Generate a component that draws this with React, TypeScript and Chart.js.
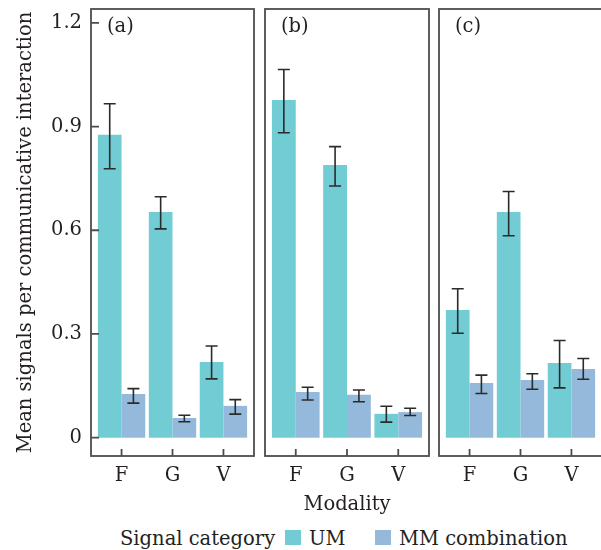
import React, { useEffect, useRef } from 'react';
import { Chart, registerables } from 'chart.js';

Chart.register(...registerables);

// ---------- data ----------
const categories = ['F', 'G', 'V'];
const panelLabels = ['(a)', '(b)', '(c)'];
const yTickValues = [0, 0.3, 0.6, 0.9, 1.2];
const seriesNames = ['UM', 'MM combination'];

// one row per panel (a, b, c), one value per modality (F, G, V)
const umMeans = [
  [0.876, 0.653, 0.219],
  [0.977, 0.789, 0.069],
  [0.369, 0.653, 0.216],
];
const umLower = [
  [0.778, 0.604, 0.170],
  [0.882, 0.728, 0.045],
  [0.302, 0.584, 0.144],
];
const umUpper = [
  [0.966, 0.697, 0.265],
  [1.065, 0.842, 0.091],
  [0.431, 0.712, 0.281],
];
const mmMeans = [
  [0.126, 0.057, 0.092],
  [0.132, 0.124, 0.074],
  [0.158, 0.167, 0.199],
];
const mmLower = [
  [0.100, 0.046, 0.068],
  [0.109, 0.104, 0.064],
  [0.128, 0.140, 0.169],
];
const mmUpper = [
  [0.142, 0.065, 0.110],
  [0.146, 0.138, 0.085],
  [0.181, 0.185, 0.229],
];

// ---------- style ----------
const FONT_FAMILY = "'DejaVu Serif', serif";
const FONT_SIZE = 19.5;
const TEXT_COLOR = '#231f20';
const UM_COLOR = '#72ccd4';
const MM_COLOR = '#95b9da';
const FRAME_COLOR = '#4d4d4d';
const ERR_COLOR = '#2b2b2b';

const CANVAS_H = 520;
const PLOT_TOP = 9;
const PLOT_BOTTOM = 456;
const Y_MIN = -0.053;
const Y_MAX = 1.24;

const panelGeom = [
  { left: 0, width: 256, padLeft: 0, yAxis: true, xTitle: false },
  { left: 262, width: 169, padLeft: 3, yAxis: false, xTitle: true },
  { left: 436, width: 168, padLeft: 3, yAxis: false, xTitle: false },
];

const decoPlugin = {
  id: 'panelDeco',
  afterDatasetsDraw(chart: any) {
    const ctx = chart.ctx;
    const yScale = chart.scales.y;
    ctx.save();
    ctx.strokeStyle = ERR_COLOR;
    ctx.lineWidth = 1.6;
    chart.data.datasets.forEach((ds: any, di: number) => {
      const meta = chart.getDatasetMeta(di);
      meta.data.forEach((el: any, i: number) => {
        const x = el.x;
        const yT = yScale.getPixelForValue(ds.errHigh[i]);
        const yB = yScale.getPixelForValue(ds.errLow[i]);
        ctx.beginPath();
        ctx.moveTo(x, yT);
        ctx.lineTo(x, yB);
        ctx.moveTo(x - 6, yT);
        ctx.lineTo(x + 6, yT);
        ctx.moveTo(x - 6, yB);
        ctx.lineTo(x + 6, yB);
        ctx.stroke();
      });
    });
    ctx.restore();
  },
  afterDraw(chart: any) {
    const ctx = chart.ctx;
    const a = chart.chartArea;
    const opts = chart.options.plugins.panelDeco;
    ctx.save();
    ctx.strokeStyle = FRAME_COLOR;
    ctx.lineWidth = 1.8;
    ctx.strokeRect(a.left, a.top, a.right - a.left, a.bottom - a.top);
    // inward ticks
    ctx.beginPath();
    const xs = chart.scales.x;
    xs.ticks.forEach((t: any) => {
      const px = xs.getPixelForValue(t.value);
      ctx.moveTo(px, a.bottom);
      ctx.lineTo(px, a.bottom - 7);
    });
    if (opts.yTicks) {
      const ys = chart.scales.y;
      ys.ticks.forEach((t: any) => {
        const py = ys.getPixelForValue(t.value);
        ctx.moveTo(a.left, py);
        ctx.lineTo(a.left + 8, py);
      });
    }
    ctx.stroke();
    // panel label
    ctx.fillStyle = TEXT_COLOR;
    ctx.font = `${FONT_SIZE}px ${FONT_FAMILY}`;
    ctx.textBaseline = 'alphabetic';
    ctx.textAlign = 'left';
    ctx.fillText(opts.label, a.left + 16, a.top + 23);
    ctx.restore();
  },
};

function Panel({ index }: { index: number }) {
  const ref = useRef<HTMLCanvasElement | null>(null);
  useEffect(() => {
    const g = panelGeom[index];
    const font = { family: FONT_FAMILY, size: FONT_SIZE };
    const chart = new Chart(ref.current as HTMLCanvasElement, {
      type: 'bar',
      data: {
        datasets: [
          {
            label: seriesNames[0],
            data: categories.map((_, i) => ({ x: i, y: umMeans[index][i] })),
            backgroundColor: UM_COLOR,
            borderWidth: 0,
            errLow: umLower[index],
            errHigh: umUpper[index],
          } as any,
          {
            label: seriesNames[1],
            data: categories.map((_, i) => ({ x: i, y: mmMeans[index][i] })),
            backgroundColor: MM_COLOR,
            borderWidth: 0,
            errLow: mmLower[index],
            errHigh: mmUpper[index],
          } as any,
        ],
      },
      options: {
        responsive: false,
        animation: false,
        events: [],
        layout: { padding: { top: PLOT_TOP, right: 2, left: g.padLeft, bottom: 0 } },
        datasets: { bar: { categoryPercentage: 0.93, barPercentage: 1 } },
        plugins: {
          legend: { display: false },
          tooltip: { enabled: false },
          panelDeco: { label: panelLabels[index], yTicks: g.yAxis },
        } as any,
        scales: {
          x: {
            type: 'linear',
            min: -0.6,
            max: 2.6,
            offset: false,
            grid: { display: false, drawTicks: false, offset: false },
            border: { display: false },
            afterBuildTicks: (s: any) => {
              s.ticks = categories.map((_, i) => ({ value: i }));
            },
            afterFit: (s: any) => {
              s.height = CANVAS_H - PLOT_BOTTOM;
              s.paddingLeft = 0;
              s.paddingRight = 0;
            },
            ticks: {
              color: TEXT_COLOR,
              font,
              padding: 8,
              maxRotation: 0,
              autoSkip: false,
              callback: (v: any) => categories[v] ?? '',
            },
            title: {
              display: g.xTitle,
              text: 'Modality',
              color: TEXT_COLOR,
              font,
              padding: { top: 0, bottom: 3 },
            },
          },
          y: {
            display: g.yAxis,
            min: Y_MIN,
            max: Y_MAX,
            grid: { display: false, drawTicks: false },
            border: { display: false },
            afterBuildTicks: (s: any) => {
              s.ticks = yTickValues.map((v) => ({ value: v }));
            },
            afterFit: (s: any) => {
              s.width = g.yAxis ? 91 : 0;
              s.paddingTop = 0;
              s.paddingBottom = 0;
            },
            ticks: {
              color: TEXT_COLOR,
              font,
              padding: 9,
              callback: (v: any) => (v === 0 ? '0' : Number(v).toFixed(1)),
            },
            title: {
              display: g.yAxis,
              text: 'Mean signals per communicative interaction',
              color: TEXT_COLOR,
              font,
              padding: { top: 14, bottom: 0 },
            },
          },
        },
      },
      plugins: [decoPlugin],
    });
    return () => chart.destroy();
  }, [index]);
  const g = panelGeom[index];
  return (
    <canvas
      ref={ref}
      width={g.width}
      height={CANVAS_H}
      style={{ position: 'absolute', left: g.left, top: 0, width: g.width, height: CANVAS_H }}
    />
  );
}

const textStyle: React.CSSProperties = {
  position: 'absolute',
  fontFamily: FONT_FAMILY,
  fontSize: FONT_SIZE,
  lineHeight: `${FONT_SIZE}px`,
  color: TEXT_COLOR,
  whiteSpace: 'nowrap',
  top: 529,
};

export default function App() {
  return (
    <div
      style={{
        position: 'fixed',
        left: 0,
        top: 0,
        width: 601,
        height: 550,
        overflow: 'hidden',
        background: '#ffffff',
      }}
    >
      {panelLabels.map((_, i) => (
        <Panel key={i} index={i} />
      ))}
      <span style={{ ...textStyle, left: 120 }}>Signal category</span>
      <span style={{ position: 'absolute', left: 285, top: 530, width: 16, height: 15, background: UM_COLOR }} />
      <span style={{ ...textStyle, left: 309 }}>{seriesNames[0]}</span>
      <span style={{ position: 'absolute', left: 375, top: 530, width: 16, height: 15, background: MM_COLOR }} />
      <span style={{ ...textStyle, left: 399 }}>{seriesNames[1]}</span>
    </div>
  );
}
